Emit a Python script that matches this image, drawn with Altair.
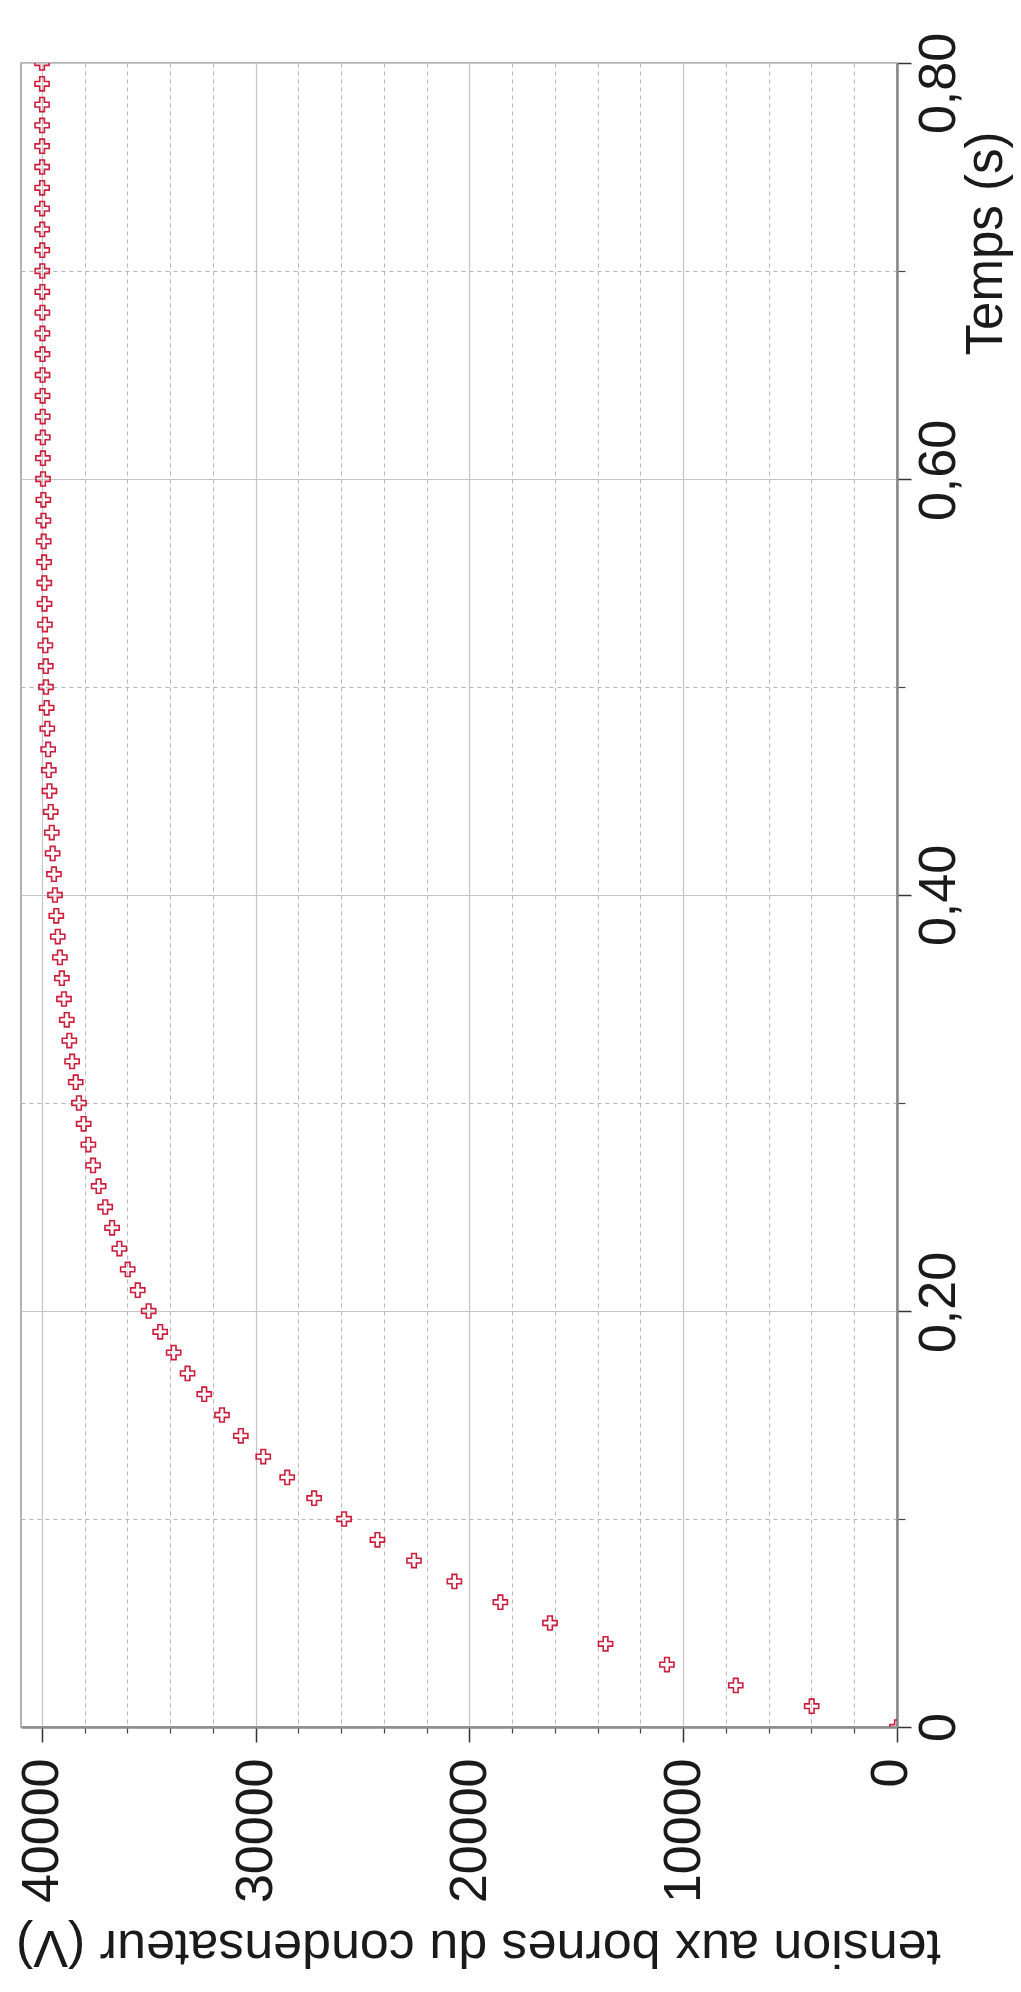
import altair as alt
import pandas as pd

# Temps (s)
time_s = [0.00, 0.01, 0.02, 0.03, 0.04, 0.05, 0.06, 0.07, 0.08, 0.09,
          0.10, 0.11, 0.12, 0.13, 0.14, 0.15, 0.16, 0.17, 0.18, 0.19,
          0.20, 0.21, 0.22, 0.23, 0.24, 0.25, 0.26, 0.27, 0.28, 0.29,
          0.30, 0.31, 0.32, 0.33, 0.34, 0.35, 0.36, 0.37, 0.38, 0.39,
          0.40, 0.41, 0.42, 0.43, 0.44, 0.45, 0.46, 0.47, 0.48, 0.49,
          0.50, 0.51, 0.52, 0.53, 0.54, 0.55, 0.56, 0.57, 0.58, 0.59,
          0.60, 0.61, 0.62, 0.63, 0.64, 0.65, 0.66, 0.67, 0.68, 0.69,
          0.70, 0.71, 0.72, 0.73, 0.74, 0.75, 0.76, 0.77, 0.78, 0.79,
          0.80]

# tension aux bornes du condensateur (V)
tension_v = [0, 3990, 7540, 10760, 13630, 16230, 18550, 20700, 22590, 24300,
             25860, 27260, 28520, 29640, 30690, 31570, 32400, 33180, 33830, 34460,
             35000, 35510, 35980, 36370, 36710, 37030, 37340, 37600, 37820, 38040,
             38260, 38410, 38580, 38710, 38830, 38960, 39060, 39150, 39250, 39320,
             39380, 39430, 39490, 39530, 39580, 39640, 39670, 39700, 39740, 39770,
             39800, 39810, 39830, 39850, 39870, 39880, 39890, 39910, 39920, 39925,
             39940, 39945, 39950, 39955, 39960, 39962, 39965, 39968, 39970, 39972,
             39975, 39976, 39978, 39980, 39981, 39982, 39983, 39984, 39985, 39986,
             39987]

volt_major = [0, 10000, 20000, 30000, 40000]
volt_minor = [2000, 4000, 6000, 8000, 12000, 14000, 16000, 18000,
              22000, 24000, 26000, 28000, 32000, 34000, 36000, 38000]
time_major = [0, 0.2, 0.4, 0.6, 0.8]
time_minor = [0.1, 0.3, 0.5, 0.7]

df = pd.DataFrame({"t": time_s, "u": tension_v})

FONT = "Liberation Sans"
CROSS = "M-1,-0.33H-0.33V-1H0.33V-0.33H1V0.33H0.33V1H-0.33V0.33H-1Z"

xscale = alt.Scale(domain=[0, 40970], reverse=True, nice=False, zero=False)
yscale = alt.Scale(domain=[0, 0.8], nice=False, zero=False)

minor = alt.Chart(df).mark_point(opacity=0).encode(
    x=alt.X("u:Q", scale=xscale, axis=alt.Axis(
        orient="bottom", values=volt_minor, labels=False, domain=False,
        tickSize=6, tickColor="#444444", tickWidth=1.2,
        grid=True, gridDash=[4, 4], gridColor="#b5b5b5", gridWidth=1,
        title="")),
    y=alt.Y("t:Q", scale=yscale, axis=alt.Axis(
        orient="right", values=time_minor, labels=False, domain=False,
        tickSize=8, tickColor="#444444", tickWidth=1.2,
        grid=True, gridDash=[4, 4], gridColor="#b5b5b5", gridWidth=1,
        title="")),
)

points = alt.Chart(df).mark_point(
    shape=CROSS, size=200, filled=False, stroke="#cc1d3a",
    strokeWidth=1.6, opacity=1, clip=True
).encode(
    x=alt.X("u:Q", scale=xscale, axis=alt.Axis(
        orient="bottom", values=volt_major, format="d",
        labelAngle=270, labelAlign="right", labelBaseline="middle",
        labelFont=FONT, labelFontSize=52, labelColor="#1a1a1a",
        labelPadding=16, labelFlush=False, labelOverlap=False,
        labelOffset={"condition": {"test": "datum.value == 0", "value": -7}, "value": 0},
        tickSize=15, tickColor="#333333", tickWidth=1.5,
        domain=True, domainColor="#8a8a8a", domainWidth=2.5,
        grid=True, gridColor="#c4c4c4", gridWidth=1.2,
        title="tension aux bornes du condensateur (V)",
        titleFont=FONT, titleFontSize=52, titleFontWeight="normal",
        titleColor="#1a1a1a", titleAngle=180, titleAlign="center",
        titleBaseline="alphabetic", titleX=457, titleY=203)),
    y=alt.Y("t:Q", scale=yscale, axis=alt.Axis(
        orient="right", values=time_major,
        labelExpr="datum.value == 0 ? '0' : replace(format(datum.value, '.2f'), '.', ',')",
        labelAngle=270, labelAlign="center", labelBaseline="top",
        labelFont=FONT, labelFontSize=52, labelColor="#1a1a1a",
        labelPadding=2, labelFlush=False, labelOverlap=False,
        labelOffset={"condition": [
            {"test": "datum.value == 0.8", "value": 20},
            {"test": "datum.value == 0.2 || datum.value == 0.6", "value": -9}],
            "value": 0},
        tickSize=14, tickColor="#333333", tickWidth=1.5,
        domain=True, domainColor="#8a8a8a", domainWidth=2.5,
        grid=True, gridColor="#c4c4c4", gridWidth=1.2,
        title="Temps (s)",
        titleFont=FONT, titleFontSize=51, titleFontWeight="normal",
        titleColor="#1a1a1a", titleAngle=270, titleAlign="center",
        titleBaseline="alphabetic", titleX=104, titleY=180)),
)

chart = alt.layer(minor, points).resolve_axis(
    x="independent", y="independent"
).properties(
    width=876, height=1664,
    autosize=alt.AutoSizeParams(type="none"),
    padding={"left": 13, "top": 55, "right": 116, "bottom": 252},
).configure_view(stroke="#9a9a9a", strokeWidth=1.5)

chart.save("out.html", embed_options={"renderer": "svg", "actions": False})
